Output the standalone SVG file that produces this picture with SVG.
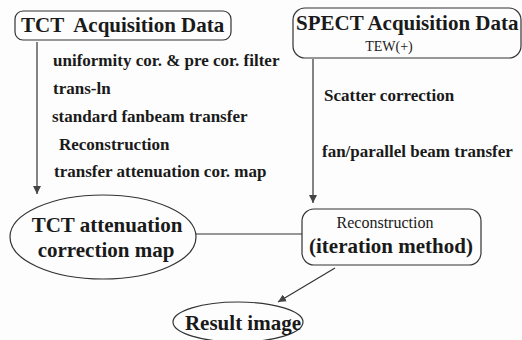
<svg xmlns="http://www.w3.org/2000/svg" width="522" height="340" viewBox="0 0 522 340">
<defs>
<style>
.b{font-family:"Liberation Serif","Times New Roman",serif;font-weight:bold;fill:#1a1a1a}
.r{font-family:"Liberation Serif","Times New Roman",serif;fill:#1a1a1a}
.big{font-size:21px}
.sm{font-size:17px}
.shape{fill:none;stroke:#333;stroke-width:1.2}
.conn{fill:none;stroke:#333;stroke-width:1.2}
</style>
<marker id="ah" viewBox="0 0 10 10" refX="10" refY="5" markerWidth="8" markerHeight="8" markerUnits="userSpaceOnUse" orient="auto">
<path d="M0,0 L10,5 L0,10 Z" fill="#444"/>
</marker>
</defs>
<rect width="522" height="340" fill="#fdfdfd"/>
<g id="connectors">
<line class="conn" x1="37" y1="42" x2="37" y2="194" marker-end="url(#ah)"/>
<line class="conn" x1="313" y1="59" x2="313" y2="203" marker-end="url(#ah)"/>
<line class="conn" x1="196" y1="234" x2="302" y2="234"/>
<line class="conn" x1="335" y1="268" x2="278" y2="302" marker-end="url(#ah)"/>
</g>
<g id="tct-steps">
<text class="b sm" x="53" y="66">uniformity cor. &amp; pre cor. filter</text>
<text class="b sm" x="53" y="94">trans-ln</text>
<text class="b sm" x="52" y="122">standard fanbeam transfer</text>
<text class="b sm" x="59" y="150">Reconstruction</text>
<text class="b sm" x="54" y="177">transfer attenuation cor. map</text>
</g>
<g id="spect-steps">
<text class="b sm" x="324" y="101">Scatter correction</text>
<text class="b sm" x="322" y="157">fan/parallel beam transfer</text>
</g>
<g id="tct-acq">
<rect class="shape" x="15" y="11" width="216" height="29" rx="8"/>
<text class="b big" x="21" y="32" xml:space="preserve">TCT  Acquisition Data</text>
</g>
<g id="spect-acq">
<rect class="shape" x="293" y="8" width="228" height="50" rx="12"/>
<text class="b big" x="296" y="30">SPECT Acquisition Data</text>
<text class="r" x="389" y="51" font-size="14" text-anchor="middle">TEW(+)</text>
</g>
<g id="tct-map">
<ellipse class="shape" cx="103" cy="237" rx="93" ry="42"/>
<text class="b big" x="107" y="232" text-anchor="middle">TCT attenuation</text>
<text class="b big" x="106" y="257" text-anchor="middle">correction map</text>
</g>
<g id="recon">
<rect class="shape" x="302" y="209" width="179" height="56" rx="12"/>
<text class="r" x="385" y="228" font-size="16" text-anchor="middle">Reconstruction</text>
<text class="b big" x="391" y="253" text-anchor="middle">(iteration method)</text>
</g>
<g id="result">
<ellipse class="shape" cx="238" cy="322" rx="65" ry="20"/>
<text class="b big" x="243" y="330" text-anchor="middle">Result image</text>
</g>
</svg>
